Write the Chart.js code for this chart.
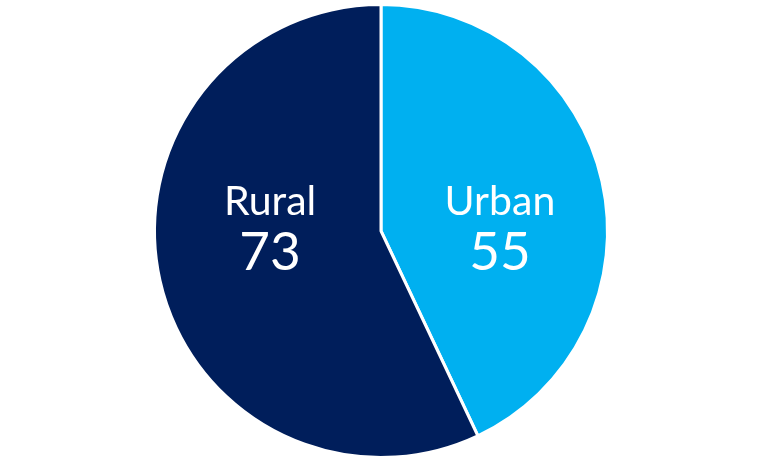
<!DOCTYPE html>
<html>
<head>
<meta charset="utf-8">
<script src="https://cdn.jsdelivr.net/npm/chart.js@4"></script>
<style>
  html, body { margin: 0; padding: 0; background: #fff; }
  #wrap { width: 768px; height: 468px; }
</style>
</head>
<body>
<div id="wrap"><canvas id="grafico"></canvas></div>
<script>
const categorias = ['Urban', 'Rural'];
const valores = [55, 73];
const cores = ['#00B0F0', '#001E5B'];

// rótulos dentro das fatias: nome em cima, valor embaixo
const rotulosPlugin = {
  id: 'rotulos',
  afterDatasetsDraw(chart) {
    const ctx = chart.ctx;
    const meta = chart.getDatasetMeta(0);
    meta.data.forEach((arc, i) => {
      const meio = (arc.startAngle + arc.endAngle) / 2;
      const d = arc.outerRadius * 0.52;
      const x = arc.x + Math.cos(meio) * d + 4;
      const y = arc.y;
      ctx.save();
      ctx.fillStyle = '#fff';
      ctx.textAlign = 'center';
      ctx.textBaseline = 'middle';
      ctx.font = '41px Lato';
      ctx.fillText(categorias[i], x, y - 29);
      ctx.font = '53px Lato';
      ctx.fillText(String(valores[i]), x, y + 22);
      ctx.restore();
    });
  }
};

new Chart(document.getElementById('grafico'), {
  type: 'pie',
  data: {
    labels: categorias,
    datasets: [{
      data: valores,
      backgroundColor: cores,
      borderColor: '#fff',
      borderWidth: 3
    }]
  },
  options: {
    responsive: true,
    maintainAspectRatio: false,
    animation: false,
    layout: { padding: { top: 3, bottom: 9, left: 0, right: 6 } },
    plugins: {
      legend: { display: false },
      tooltip: { enabled: false }
    }
  },
  plugins: [rotulosPlugin]
});
</script>
</body>
</html>
